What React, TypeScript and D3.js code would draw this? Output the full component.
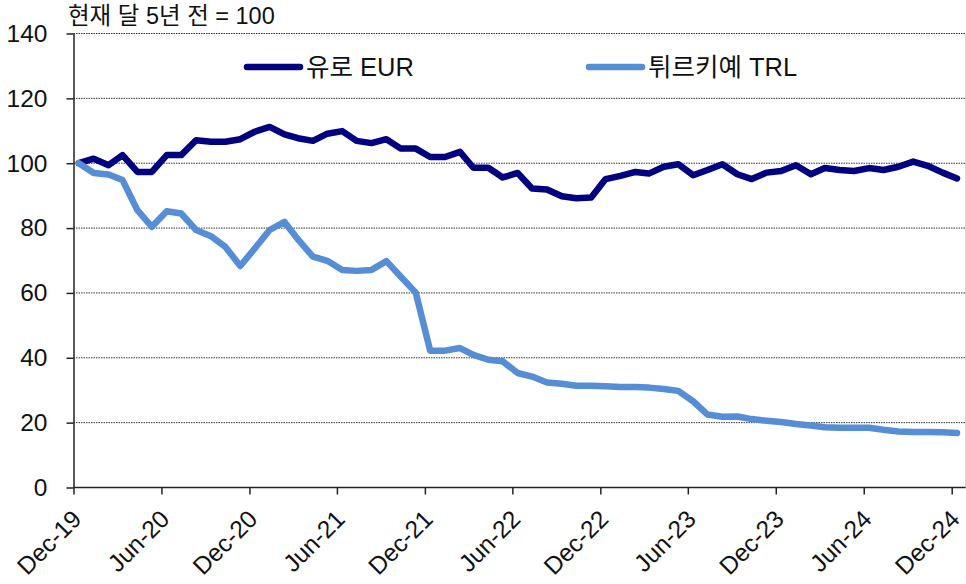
import { useRef, useEffect } from 'react';
import * as d3 from 'd3';

// monthly index, same month 5 years earlier = 100 (Dec-19 .. Dec-24)
const eurValues = [
  100, 101.4, 99.4, 102.5, 97.3, 97.3, 102.5, 102.5, 107.1, 106.6,
  106.6, 107.4, 109.7, 111.2, 108.9, 107.7, 106.9, 109.1, 109.9, 106.9,
  106.2, 107.4, 104.5, 104.5, 101.9, 101.9, 103.5, 98.6, 98.6, 95.6,
  97.0, 92.2, 91.9, 89.8, 89.2, 89.4, 95.1, 96.1, 97.3, 96.8,
  98.9, 99.7, 96.3, 97.9, 99.7, 96.6, 95.1, 97.1, 97.6, 99.4,
  96.6, 98.5, 97.9, 97.6, 98.5, 97.9, 98.9, 100.5, 99.2, 97.1, 95.3,
];

const trlValues = [
  100, 97.0, 96.5, 94.8, 85.5, 80.4, 85.2, 84.5, 79.4, 77.5,
  74.2, 68.3, 73.7, 79.4, 81.9, 76.5, 71.2, 69.9, 67.1, 66.8,
  67.1, 69.8, 65.0, 60.1, 42.2, 42.2, 43.0, 40.9, 39.4, 38.9,
  35.3, 34.2, 32.4, 32.0, 31.4, 31.4, 31.2, 31.0, 31.0, 30.8,
  30.4, 29.8, 26.6, 22.5, 21.8, 21.9, 21.1, 20.6, 20.2, 19.6,
  19.1, 18.6, 18.4, 18.4, 18.4, 17.8, 17.3, 17.1, 17.1, 17.0, 16.8,
];

const xTickLabels = [
  'Dec-19', 'Jun-20', 'Dec-20', 'Jun-21', 'Dec-21', 'Jun-22',
  'Dec-22', 'Jun-23', 'Dec-23', 'Jun-24', 'Dec-24',
];
const yTicks = [0, 20, 40, 60, 80, 100, 120, 140];

const seriesNames = ['유로 EUR', '튀르키예 TRL'];
const seriesColors = ['#000080', '#558ed5'];

const FONT = "Arial, 'Liberation Sans', 'Noto Sans CJK KR', sans-serif";

const App = () => {
  const svgRef = useRef<SVGSVGElement>(null);

  useEffect(() => {
    if (!svgRef.current) return;
    const width = 966;
    const height = 584;

    const svg = d3.select(svgRef.current)
      .attr('width', width)
      .attr('height', height)
      .style('font-family', FONT);
    svg.selectAll('*').remove();

    const start = new Date(2019, 11, 1);
    const dates = eurValues.map((_, i) => new Date(2019, 11 + i, 12));
    const tickDates = xTickLabels.map((_, i) => new Date(2019, 11 + i * 6, 1));

    const x = d3.scaleTime()
      .domain([start, new Date(2024, 11, 1)])
      .range([73.5, 951.7]);
    const y = d3.scaleLinear().domain([0, 140]).range([487.5, 33.5]);
    const right = x(new Date(2024, 11, 30));

    // frame right edge
    svg.append('line')
      .attr('x1', right).attr('x2', right)
      .attr('y1', y(140)).attr('y2', y(0))
      .attr('stroke', '#d0d0d0');

    // grid
    svg.append('g')
      .selectAll('line')
      .data(yTicks.filter(d => d > 0))
      .join('line')
      .attr('x1', 73.5).attr('x2', right)
      .attr('y1', d => y(d)).attr('y2', d => y(d))
      .attr('stroke', '#333')
      .attr('stroke-width', 1)
      .attr('stroke-dasharray', '1.5,1');

    // lines
    const line = d3.line<number>()
      .x((_, i) => x(dates[i]))
      .y(d => y(d));

    [eurValues, trlValues].forEach((vals, k) => {
      svg.append('path')
        .datum(vals)
        .attr('fill', 'none')
        .attr('stroke', seriesColors[k])
        .attr('stroke-width', 6.5)
        .attr('stroke-linejoin', 'round')
        .attr('stroke-linecap', 'round')
        .attr('d', line);
    });

    // y axis
    const yAxis = svg.append('g')
      .attr('transform', 'translate(73.5,0)')
      .call(d3.axisLeft(y).tickValues(yTicks).tickSize(7).tickSizeOuter(0).tickPadding(19));
    yAxis.select('.domain').attr('stroke', '#222').attr('stroke-width', 1.5);
    yAxis.selectAll('.tick line').attr('stroke', '#222').attr('stroke-width', 1.5);
    yAxis.selectAll('.tick text')
      .attr('font-size', 24.5)
      .attr('font-family', FONT)
      .attr('fill', '#111');

    // x axis
    const xAxis = svg.append('g')
      .attr('transform', `translate(0,${y(0)})`)
      .call(d3.axisBottom(x)
        .tickValues(tickDates)
        .tickFormat((_, i) => xTickLabels[i])
        .tickSize(7)
        .tickSizeOuter(0));
    xAxis.select('.domain')
      .attr('d', `M73.5,0H${right}`)
      .attr('stroke', '#222').attr('stroke-width', 1.5);
    xAxis.selectAll('.tick line').attr('stroke', '#222').attr('stroke-width', 1.5);
    xAxis.selectAll('.tick text')
      .attr('font-size', 24.5)
      .attr('font-family', FONT)
      .attr('fill', '#111')
      .attr('text-anchor', 'end')
      .attr('dy', 0)
      .attr('y', 0)
      .attr('transform', 'translate(9,33) rotate(-45)');

    // title
    svg.append('text')
      .attr('x', 68)
      .attr('y', 24)
      .attr('font-size', 23.5)
      .attr('fill', '#111')
      .text('현재 달 5년 전 = 100');

    // legend
    const legendX = [245, 587];
    seriesNames.forEach((name, k) => {
      const g = svg.append('g').attr('transform', `translate(${legendX[k]},67)`);
      g.append('line')
        .attr('x1', 2).attr('x2', 55)
        .attr('stroke', seriesColors[k])
        .attr('stroke-width', 6.5)
        .attr('stroke-linecap', 'round');
      g.append('text')
        .attr('x', 61)
        .attr('y', 9)
        .attr('font-size', 25.5)
        .attr('fill', '#111')
        .text(name);
    });

    return () => { svg.selectAll('*').remove(); };
  }, []);

  return (
    <svg
      ref={svgRef}
      style={{ position: 'absolute', left: 0, top: 0, display: 'block', background: '#fff' }}
    />
  );
};

export default App;
